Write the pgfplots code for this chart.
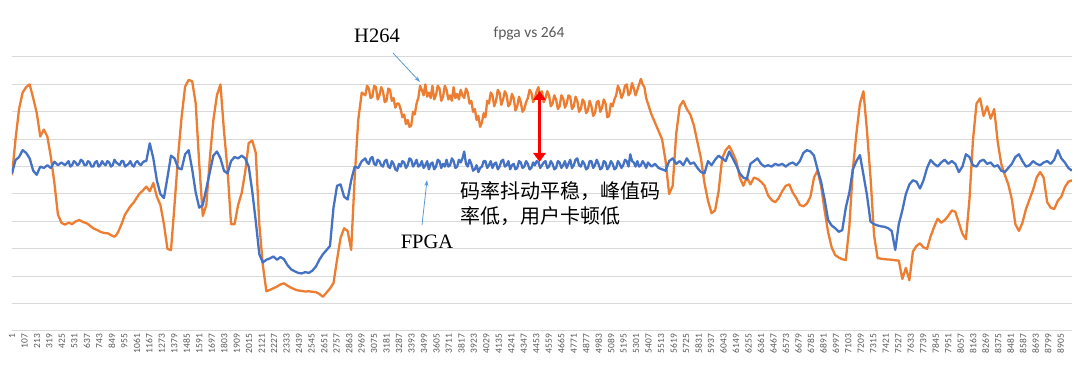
\documentclass[border=0pt]{standalone}
\usepackage{pgfplots}
\pgfplotsset{compat=1.18}
\usepackage{pgfplotstable}
\usepackage{fontspec}
\setmainfont{Carlito}
\newfontfamily\seriffont{Liberation Serif}
\newfontfamily\cjk{Noto Sans CJK SC}
\usetikzlibrary{arrows.meta}
\definecolor{h264}{HTML}{ED7D31}
\definecolor{fpga}{HTML}{4472C4}
\definecolor{gridgray}{HTML}{D9D9D9}
\definecolor{labelgray}{HTML}{595959}
\definecolor{callout}{HTML}{5B9BD5}

\pgfplotstableread{
x h f
1 5.69 5.75
31 7.0 6.24
61 8.1 6.35
91 8.7 6.6
121 8.9 6.5
151 9.0 6.3
181 8.5 5.85
211 7.96 5.7
241 7.1 6.0
271 7.35 5.95
301 7.1 6.05
331 6.35 5.95
361 5.4 6.18
391 4.25 6.05
421 3.95 6.15
451 3.88 6.05
481 3.95 6.2
496 3.93 6.0
511 3.9 6.05
526 3.95 6.2
541 4.0 6.15
556 4.02 6.05
571 4.05 6.1
586 4.02 6.25
601 3.98 6.2
616 3.96 6.05
631 3.94 6.05
646 3.9 6.2
661 3.85 6.15
676 3.8 6.0
691 3.75 6.0
706 3.72 6.15
721 3.69 6.2
736 3.66 6.0
751 3.62 6.05
766 3.6 6.2
781 3.58 6.1
796 3.57 6.05
811 3.57 6.2
826 3.54 6.15
841 3.5 6.0
856 3.47 6.05
871 3.44 6.25
886 3.5 6.15
901 3.6 6.1
916 3.75 6.05
931 3.9 6.2
946 4.08 6.2
961 4.25 6.0
976 4.35 6.05
991 4.45 6.1
1006 4.55 6.2
1021 4.62 6.05
1036 4.7 6.0
1051 4.8 6.15
1066 4.9 6.2
1081 5.0 6.1
1096 5.06 6.05
1111 5.12 6.15
1126 5.2 6.2
1141 5.27 6.2
1171 5.1 6.85
1201 5.4 6.3
1231 4.9 5.5
1261 4.6 5.0
1291 3.9 4.85
1321 3.0 5.6
1351 2.95 6.4
1381 4.6 6.3
1411 6.36 5.95
1441 7.8 5.9
1471 8.92 6.45
1501 9.16 6.6
1531 9.12 5.9
1561 8.3 5.05
1591 6.1 4.5
1621 4.2 4.6
1651 4.6 5.2
1681 6.3 5.8
1711 7.7 6.4
1741 8.6 6.55
1771 9.0 6.3
1801 7.3 5.85
1831 5.9 5.75
1861 3.9 6.2
1891 3.9 6.35
1921 4.6 6.3
1951 5.03 6.4
1981 5.8 6.3
2011 6.86 6.0
2041 6.95 5.1
2071 6.5 4.0
2101 3.9 2.8
2131 2.4 2.5
2161 1.45 2.6
2191 1.5 2.65
2221 1.56 2.72
2251 1.62 2.6
2281 1.7 2.7
2311 1.74 2.62
2341 1.65 2.4
2371 1.58 2.25
2401 1.52 2.18
2431 1.48 2.12
2461 1.46 2.1
2491 1.44 2.15
2521 1.45 2.12
2551 1.43 2.2
2581 1.42 2.35
2611 1.35 2.6
2641 1.25 2.8
2671 1.4 2.95
2701 1.55 3.1
2731 1.75 4.5
2761 2.6 5.3
2791 3.4 5.35
2821 3.75 4.9
2851 3.65 4.8
2881 2.96 5.5
2911 5.6 6.0
2941 7.7 5.95
2971 8.7 6.2
3001 8.6 6.3
3016 8.95 6.15
3031 8.85 6.1
3046 8.5 6.3
3061 8.55 6.35
3076 8.95 6.1
3091 8.9 6.05
3106 8.45 6.25
3121 8.6 6.2
3136 8.9 6.05
3151 8.75 6.0
3166 8.35 6.2
3181 8.4 6.25
3196 8.85 6.0
3211 8.8 5.95
3226 8.4 6.2
3241 8.5 6.1
3256 8.15 5.9
3271 8.3 5.85
3286 8.3 6.1
3301 8.1 6.0
3316 7.8 6.2
3331 7.9 6.15
3346 7.55 5.95
3361 7.7 6.05
3376 7.45 6.3
3391 7.5 6.25
3406 8.0 6.0
3421 7.9 6.1
3436 8.3 6.25
3451 8.5 6.0
3466 8.95 6.05
3481 8.8 6.2
3496 8.6 5.95
3511 9.0 6.05
3526 8.55 6.2
3541 8.7 5.9
3556 8.5 6.1
3571 8.95 6.15
3586 8.45 5.9
3601 8.6 6.0
3616 8.95 6.25
3631 8.85 6.2
3646 8.4 5.95
3661 8.55 6.1
3676 8.95 6.0
3691 8.8 6.25
3706 8.45 6.0
3721 8.6 6.05
3736 8.4 6.3
3751 8.9 6.2
3766 8.5 5.95
3781 8.65 6.0
3796 8.45 6.25
3811 8.8 6.15
3826 8.6 6.3
3841 8.5 6.55
3856 8.85 6.1
3871 8.7 6.0
3886 8.3 6.25
3901 8.4 6.1
3916 8.0 5.85
3931 8.1 5.9
3946 7.7 6.05
3961 7.85 5.8
3976 7.45 5.95
3991 7.6 6.0
4006 7.95 6.2
4021 7.8 6.2
4036 8.4 5.95
4051 8.3 6.05
4066 8.7 6.2
4081 8.6 5.95
4096 8.2 6.1
4111 8.4 6.15
4126 8.8 5.9
4141 8.7 6.0
4156 8.25 6.2
4171 8.45 6.25
4186 8.75 6.0
4201 8.6 6.05
4216 8.2 6.2
4231 8.3 5.9
4246 8.65 6.05
4261 8.5 6.1
4276 8.05 5.9
4291 8.2 5.95
4306 8.55 6.2
4321 8.35 6.15
4336 8.0 5.95
4351 8.1 6.0
4366 8.35 6.2
4381 8.5 6.1
4396 8.8 5.9
4411 8.7 5.95
4426 8.35 6.15
4441 8.5 6.05
4456 8.75 6.2
4471 8.9 6.15
4486 8.55 5.95
4501 8.75 6.05
4516 8.35 6.15
4531 8.5 6.2
4546 8.75 5.95
4561 8.6 6.0
4576 8.2 6.2
4591 8.3 6.1
4606 8.6 5.9
4621 8.45 5.95
4636 8.1 6.2
4651 8.2 6.15
4666 8.6 5.95
4681 8.5 6.05
4696 8.15 6.2
4711 8.3 5.95
4726 8.6 6.1
4741 8.55 6.25
4756 8.1 5.95
4771 8.2 6.05
4786 8.55 6.25
4801 8.4 6.3
4816 8.0 6.05
4831 8.1 6.0
4846 8.45 6.2
4861 8.35 6.1
4876 7.95 5.9
4891 8.05 5.95
4906 8.4 6.2
4921 8.2 6.2
4936 7.85 5.95
4951 7.95 6.05
4966 8.35 6.25
4981 8.4 6.1
4996 8.0 5.9
5011 8.15 5.95
5026 8.45 6.2
5041 8.3 6.15
5056 7.8 5.9
5071 7.85 6.0
5086 8.3 6.2
5101 8.2 6.1
5116 8.45 5.9
5131 8.6 5.95
5146 8.95 6.2
5161 8.8 6.1
5176 8.5 5.95
5191 8.65 6.05
5206 8.95 6.25
5221 9.0 6.2
5236 8.6 6.0
5251 8.7 6.45
5266 9.05 6.2
5281 8.85 6.15
5296 8.6 6.0
5311 8.8 6.2
5326 9.0 6.0
5341 9.2 6.05
5356 9.0 6.2
5371 8.9 6.1
5386 8.5 5.95
5401 8.3 6.15
5431 7.9 6.0
5461 7.6 6.1
5491 7.3 5.95
5521 7.0 5.9
5551 6.2 5.85
5581 5.0 6.2
5611 5.3 6.3
5641 7.2 6.1
5671 8.2 6.2
5701 8.4 6.05
5731 8.1 6.3
5761 7.9 6.1
5791 7.5 6.15
5821 6.9 5.95
5851 6.3 5.8
5881 5.4 5.75
5911 4.75 6.2
5941 4.3 6.05
5971 4.4 6.25
6001 5.1 6.4
6031 6.3 6.3
6061 6.6 6.2
6091 6.75 6.55
6121 6.5 6.3
6151 6.2 6.05
6181 5.6 5.75
6211 5.3 5.6
6241 5.6 5.55
6271 5.35 6.1
6301 5.6 6.2
6331 5.55 6.3
6361 5.45 6.1
6391 5.3 6.0
6421 4.95 6.05
6451 4.78 6.0
6481 4.7 6.1
6511 4.85 6.05
6541 5.1 6.1
6571 5.3 6.0
6601 5.35 6.1
6631 5.05 6.15
6661 4.85 6.05
6691 4.6 6.2
6721 4.55 6.5
6751 4.65 6.6
6781 4.9 6.55
6811 5.6 6.4
6841 5.85 5.9
6871 5.3 5.45
6901 4.4 4.8
6931 3.6 4.05
6961 3.05 3.85
6991 2.77 3.75
7021 2.68 3.62
7051 2.62 3.68
7081 2.59 4.5
7111 3.8 5.05
7141 5.9 5.9
7171 7.2 6.2
7201 8.3 6.42
7231 8.75 5.7
7261 7.3 4.95
7291 5.6 3.99
7321 3.5 3.9
7351 2.66 3.85
7381 2.64 3.82
7411 2.62 3.8
7441 2.61 3.75
7471 2.6 3.65
7501 2.58 2.96
7531 2.57 3.9
7561 1.9 4.4
7591 2.3 5.0
7621 1.85 5.35
7651 2.9 5.5
7681 3.1 5.45
7711 3.2 5.2
7741 3.05 5.5
7771 3.0 5.95
7801 3.45 6.24
7831 3.8 6.1
7861 4.1 6.0
7891 3.95 6.15
7921 4.05 6.25
7951 4.2 6.1
7981 4.4 6.2
8011 4.35 6.1
8041 3.95 5.8
8071 3.55 6.0
8101 3.35 6.45
8131 4.8 6.35
8161 6.97 6.05
8191 8.3 6.0
8221 8.49 6.2
8251 7.85 6.25
8281 8.2 6.1
8311 7.75 6.15
8341 8.1 6.0
8371 6.9 6.05
8401 6.1 5.85
8431 5.7 5.8
8461 5.35 5.95
8491 4.8 6.1
8521 3.9 6.35
8551 3.65 6.45
8581 3.95 6.2
8611 4.45 6.0
8641 4.8 6.05
8671 5.15 6.2
8701 5.6 6.1
8731 5.8 6.05
8761 5.6 6.15
8791 4.7 6.2
8821 4.5 6.1
8851 4.45 6.25
8881 4.75 6.6
8911 4.9 6.3
8941 5.25 6.15
8971 5.45 5.95
9001 5.5 5.85
}\rates

\begin{document}
\begin{tikzpicture}
\path[use as bounding box] (0,0) rectangle (1080pt,374pt);
\begin{axis}[
  at={(12pt,43pt)}, anchor=south west,
  scale only axis, width=1060pt, height=274pt,
  xmin=1, xmax=9001, ymin=0, ymax=10,
  xtick={1,107,...,8905},
  ytick={0,1,...,10}, yticklabels={},
  ymajorgrids, grid style={color=gridgray, line width=1pt},
  axis line style={draw=none}, tick style={draw=none},
  scaled x ticks=false,
  /pgf/number format/1000 sep={},
  /pgf/number format/assume math mode=true,
  xticklabel={\pgfmathprintnumber[fixed,precision=0,1000 sep={}]{\tick}},
  xticklabel style={rotate=90, anchor=east, inner sep=0pt, outer sep=3pt,
    font=\fontsize{9.5}{10}\selectfont, text=labelgray},
  line join=round,
]
\addplot[h264, line width=2.3pt, mark=none] table[x=x, y=h] {\rates};
\addplot[fpga, line width=2.3pt, mark=none] table[x=x, y=f] {\rates};
\end{axis}
% title
\node[font=\fontsize{15.5}{16}\selectfont, text=labelgray] at (529pt,340pt) {fpga vs 264};
% annotations
\node[font=\seriffont\fontsize{20.5}{22}\selectfont] at (377pt,338pt) {H264};
\draw[callout, line width=0.8pt, -{Stealth[length=6pt,width=4pt]}] (393pt,321pt) -- (420pt,292pt);
\node[font=\seriffont\fontsize{20.5}{22}\selectfont] at (427pt,132pt) {FPGA};
\draw[callout, line width=0.8pt, -{Stealth[length=6pt,width=4pt]}] (422pt,149pt) -- (427pt,194pt);
\node[font=\cjk\fontsize{20}{25}\selectfont, anchor=north west, align=left, inner sep=0pt] at (460pt,193pt) {码率抖动平稳，峰值码\\率低，用户卡顿低};
\draw[red, line width=3.5pt, {Triangle[length=9pt,width=12pt]}-{Triangle[length=9pt,width=12pt]}] (539.5pt,283pt) -- (539.5pt,212pt);
\end{tikzpicture}
\end{document}
